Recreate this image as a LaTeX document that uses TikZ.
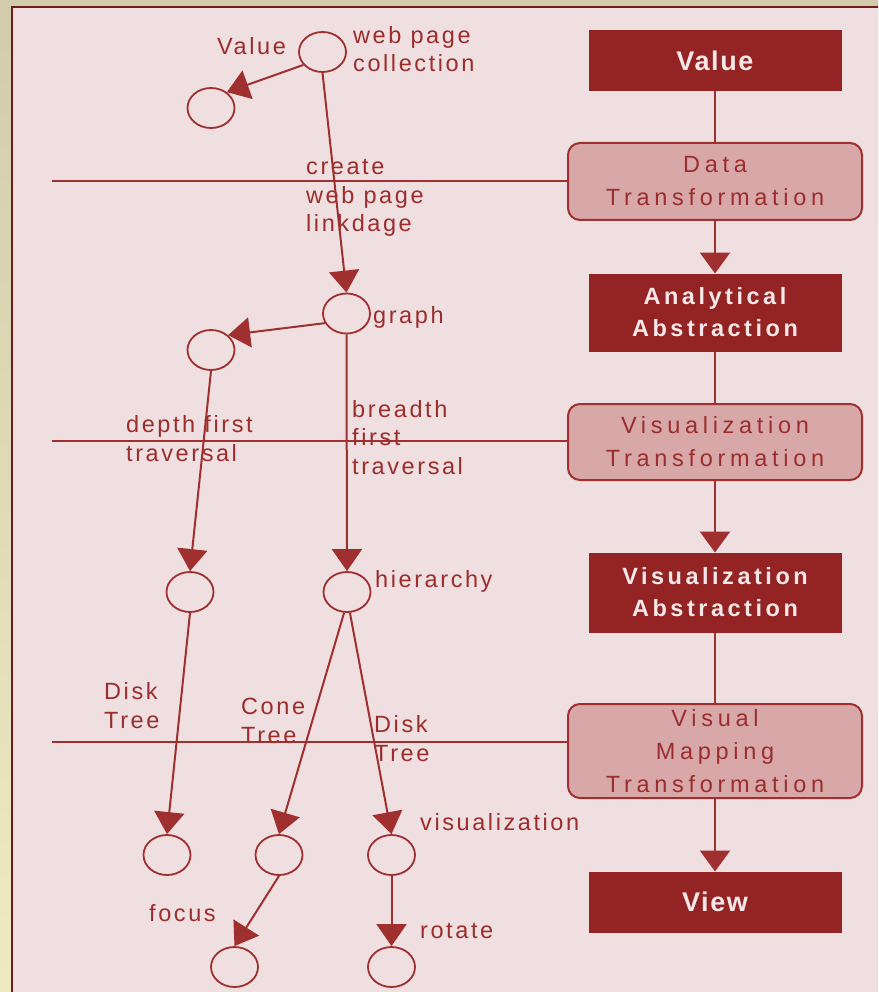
\documentclass[tikz,border=0pt]{standalone}
\usepackage{fontspec}
\setmainfont{Liberation Sans}
\newfontfamily\lblfont[LetterSpace=11]{Liberation Sans}
\newfontfamily\lightfont[LetterSpace=20]{Liberation Sans}
\newfontfamily\darkfont[LetterSpace=15]{Liberation Sans}
\newfontfamily\bigfont[LetterSpace=6]{Liberation Sans}
\usetikzlibrary{arrows.meta,shapes.geometric}
\definecolor{pinkbg}{RGB}{239,223,224}
\definecolor{boxred}{RGB}{148,36,36}
\definecolor{lightfill}{RGB}{216,168,169}
\definecolor{linered}{RGB}{160,48,48}
\definecolor{txtred}{RGB}{155,45,45}
\definecolor{framered}{RGB}{110,28,28}
\definecolor{boxtxt}{RGB}{246,232,232}
\definecolor{outertop}{RGB}{210,204,172}
\definecolor{outerbot}{RGB}{238,234,192}
\tikzset{
  lbl/.style={anchor=base west, inner sep=0pt, text=txtred, align=left,
    font=\lblfont\fontsize{23.5}{28.5}\selectfont},
  ell/.style={ellipse, draw=linered, line width=1.8pt, minimum width=47pt,
    minimum height=40pt, inner sep=0pt},
  darkbox/.style={rectangle, draw=boxred, fill=boxred, line width=1pt,
    minimum width=252pt, inner sep=0pt, text=boxtxt, align=center,
    font=\darkfont\bfseries\fontsize{23.5}{32}\selectfont},
  bigbox/.style={darkbox, font=\bigfont\bfseries\fontsize{27}{32}\selectfont},
  lightbox/.style={rectangle, rounded corners=12pt, draw=linered, fill=lightfill,
    line width=2pt, minimum width=294pt, inner sep=0pt, text=txtred, align=center,
    font=\lightfont\fontsize{23.5}{33}\selectfont},
  conn/.style={draw=linered, line width=2pt},
  vconn/.style={draw=linered, line width=2.5pt},
  arr/.style={conn, -{Triangle[width=30pt,length=22pt]}},
  varr/.style={vconn, -{Triangle[width=30pt,length=21pt]}},
}
\begin{document}
\begin{tikzpicture}[x=1pt,y=-1pt]
\useasboundingbox (0,0) rectangle (878,992);
\clip (0,0) rectangle (878,992);
\shade[top color=outertop, bottom color=outerbot] (0,0) rectangle (878,992);
\filldraw[fill=pinkbg, draw=framered, line width=2.5pt] (12,7) rectangle (892,1006);

% right column
\node[bigbox, minimum height=60pt] (value) at (715,61) {Value};
\node[lightbox, minimum height=77pt] (dt) at (715,181.5) {Data\\Transformation};
\node[darkbox, minimum height=77pt] (aa) at (715,312.5) {Analytical\\Abstraction};
\node[lightbox, minimum height=76pt] (vt) at (715,442) {Visualization\\Transformation};
\node[darkbox, minimum height=79pt] (va) at (715,592.5) {Visualization\\Abstraction};
\node[lightbox, minimum height=94pt] (vmt) at (715,751) {Visual\\Mapping\\Transformation};
\node[bigbox, minimum height=60pt] (view) at (715,902) {View};

\draw[vconn] (value) -- (dt);
\draw[varr] (dt) -- (aa);
\draw[vconn] (aa) -- (vt);
\draw[varr] (vt) -- (va);
\draw[vconn] (va) -- (vmt);
\draw[varr] (vmt) -- (view);

% horizontal lines
\coordinate (h1) at (52,181);
\coordinate (h2) at (52,441);
\coordinate (h3) at (52,742);
\draw[conn] (h1) -- (h1 -| dt.west);
\draw[conn] (h2) -- (h2 -| vt.west);
\draw[conn] (h3) -- (h3 -| vmt.west);

% graph nodes
\node[ell] (web) at (322.5,52) {};
\node[ell] (val) at (211,108) {};
\node[ell] (graph) at (346.5,313.5) {};
\node[ell] (lc) at (211,350) {};
\node[ell] (dc) at (190,592) {};
\node[ell] (hier) at (347,592) {};
\node[ell] (b1) at (167,855) {};
\node[ell] (b2) at (279,855) {};
\node[ell] (b3) at (391.5,855) {};
\node[ell] (b4) at (234.5,967) {};
\node[ell] (b5) at (391.5,967) {};

% labels (base anchor = baseline of last line)
\node[lbl] (tval) at (217,55) {Value};
\node[lbl] (tweb) at (353,72) {web page\\collection};
\node[lbl] (tcreate) at (306,232) {create\\web page\\linkdage};
\node[lbl] (tgraph) at (373,323) {graph};
\node[lbl] (tdepth) at (126,461) {depth first\\traversal};
\node[lbl] (tbreadth) at (352,474) {breadth\\first\\traversal};
\node[lbl] (thier) at (375,587) {hierarchy};
\node[lbl] (tdisk1) at (104,728) {Disk\\Tree};
\node[lbl] (tcone) at (241,743) {Cone\\Tree};
\node[lbl] (tdisk2) at (374,761) {Disk\\Tree};
\node[lbl] (tvis) at (420,830) {visualization};
\node[lbl] (tfocus) at (149,921) {focus};
\node[lbl] (trot) at (420,938) {rotate};

% edges
\draw[arr] (web.214) -- (val.45);
\draw[arr] (web.south) -- (graph.north);
\draw[arr] (graph.204) -- (lc.41);
\draw[arr] (lc.south) -- (dc.north);
\draw[arr] (graph.south) -- (hier.north);
\draw[arr] (dc.south) -- (b1.north);
\draw[arr] (hier.262) -- (b2.north);
\draw[arr] (hier.278) -- (b3.north);
\draw[arr] (b2.south) -- (b4.north);
\draw[arr] (b3.south) -- (b5.north);
\end{tikzpicture}
\end{document}
